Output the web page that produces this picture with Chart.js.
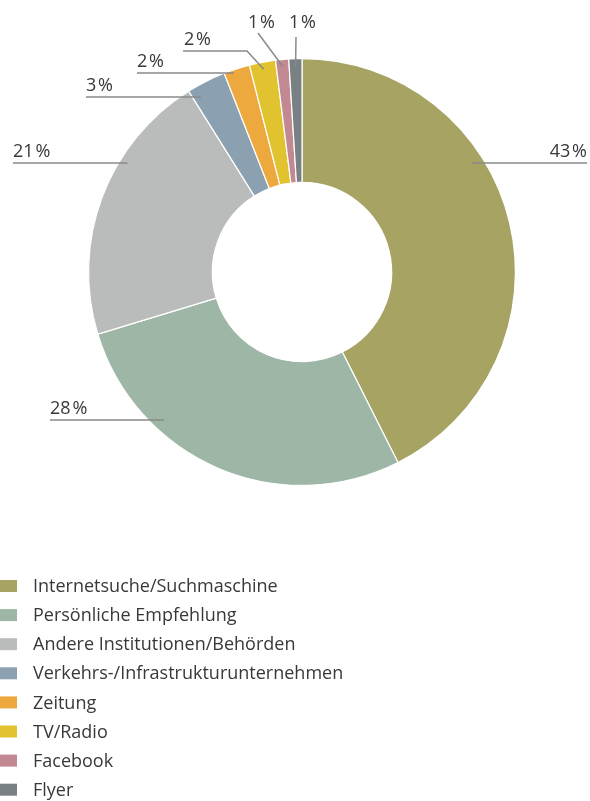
<!DOCTYPE html>
<html lang="de">
<head>
<meta charset="utf-8">
<title>Informationsquellen</title>
<script src="https://cdn.jsdelivr.net/npm/chart.js@4.4.1/dist/chart.umd.min.js"></script>
<style>
  html, body { margin: 0; padding: 0; background: #ffffff; }
  #wrap { width: 590px; height: 801px; position: relative; }
</style>
</head>
<body>
<div id="wrap"><canvas id="chart" width="590" height="801"></canvas></div>
<script>
// Categories and their shares in percent
const categories = [
  'Internetsuche/Suchmaschine',
  'Persönliche Empfehlung',
  'Andere Institutionen/Behörden',
  'Verkehrs-/Infrastrukturunternehmen',
  'Zeitung',
  'TV/Radio',
  'Facebook',
  'Flyer'
];
const shares = [43, 28, 21, 3, 2, 2, 1, 1];
const sliceColors = ['#a7a463', '#9db6a6', '#b9bcbb', '#8ba1b2', '#eda93d', '#e1c32f', '#c28993', '#798083'];

const FONT = '"Open Sans", "DejaVu Sans", sans-serif';
const TEXT_COLOR = '#383838';
const LINE_COLOR = '#8a8a8a';

// Callout placement for each slice's percentage label
const callouts = [
  { kind: 'h', side: 'right', dy: -109, inset: 14, outerX: 587 },
  { kind: 'h', side: 'left',  dy: 148,  inset: 16, outerX: 50 },
  { kind: 'h', side: 'left',  dy: -109, inset: 9,  outerX: 13 },
  { kind: 'h', side: 'left',  dy: -175, inset: 21, outerX: 86 },
  { kind: 'h', side: 'left',  dy: -199, inset: 9,  outerX: 137 },
  { kind: 'elbow', textX: 184, textY: 45, lineY: 51, kneeX: 247, depth: 7 },
  { kind: 'diag',  textX: 248, textY: 28, fromX: 258, fromY: 33, depth: 7 },
  { kind: 'diag',  textX: 289, textY: 28, fromX: 296, fromY: 37, depth: 7 }
];

const calloutPlugin = {
  id: 'callouts',
  afterDatasetsDraw(chart) {
    const ctx = chart.ctx;
    const arcs = chart.getDatasetMeta(0).data;
    const values = chart.data.datasets[0].data;
    ctx.save();
    ctx.font = '18px ' + FONT;
    ctx.fillStyle = TEXT_COLOR;
    ctx.strokeStyle = LINE_COLOR;
    ctx.lineWidth = 1.5;
    ctx.textBaseline = 'alphabetic';
    arcs.forEach((arc, i) => {
      const c = callouts[i];
      const p = arc.getProps(['x', 'y', 'startAngle', 'endAngle', 'outerRadius'], true);
      const label = values[i] + '\u200a%';
      if (c.kind === 'h') {
        const ly = p.y + c.dy;
        const half = Math.sqrt(p.outerRadius * p.outerRadius - c.dy * c.dy);
        const inner = c.side === 'right' ? p.x + half - c.inset : p.x - half + c.inset;
        ctx.beginPath();
        ctx.moveTo(c.outerX, ly);
        ctx.lineTo(inner, ly);
        ctx.stroke();
        ctx.textAlign = c.side === 'right' ? 'right' : 'left';
        ctx.fillText(label, c.outerX, ly - 6);
      } else {
        const mid = (p.startAngle + p.endAngle) / 2;
        const r = p.outerRadius - c.depth;
        const ex = p.x + Math.cos(mid) * r;
        const ey = p.y + Math.sin(mid) * r;
        ctx.beginPath();
        if (c.kind === 'elbow') {
          ctx.moveTo(c.textX - 1, c.lineY);
          ctx.lineTo(c.kneeX, c.lineY);
        } else {
          ctx.moveTo(c.fromX, c.fromY);
        }
        ctx.lineTo(ex, ey);
        ctx.stroke();
        ctx.textAlign = 'left';
        ctx.fillText(label, c.textX, c.textY);
      }
    });
    ctx.restore();
  }
};

// Vertical legend in the lower left
const legendPlugin = {
  id: 'stackedLegend',
  afterDraw(chart) {
    const ctx = chart.ctx;
    const colors = chart.data.datasets[0].backgroundColor;
    ctx.save();
    ctx.font = '18px ' + FONT;
    ctx.textAlign = 'left';
    ctx.textBaseline = 'middle';
    chart.data.labels.forEach((lab, i) => {
      const cy = 586 + i * 29.1;
      ctx.fillStyle = colors[i];
      ctx.fillRect(0, cy - 6, 17, 12);
      ctx.fillStyle = TEXT_COLOR;
      ctx.fillText(lab, 33, cy + 1);
    });
    ctx.restore();
  }
};

new Chart(document.getElementById('chart'), {
  type: 'doughnut',
  data: {
    labels: categories,
    datasets: [{
      data: shares,
      backgroundColor: sliceColors,
      borderColor: '#ffffff',
      borderWidth: 1.2,
      hoverOffset: 0
    }]
  },
  options: {
    responsive: false,
    devicePixelRatio: 1,
    animation: false,
    cutout: '42%',
    layout: { padding: { left: 88, top: 58, right: 74, bottom: 315 } },
    plugins: {
      legend: { display: false },
      tooltip: { enabled: false }
    }
  },
  plugins: [calloutPlugin, legendPlugin]
});
</script>
</body>
</html>
